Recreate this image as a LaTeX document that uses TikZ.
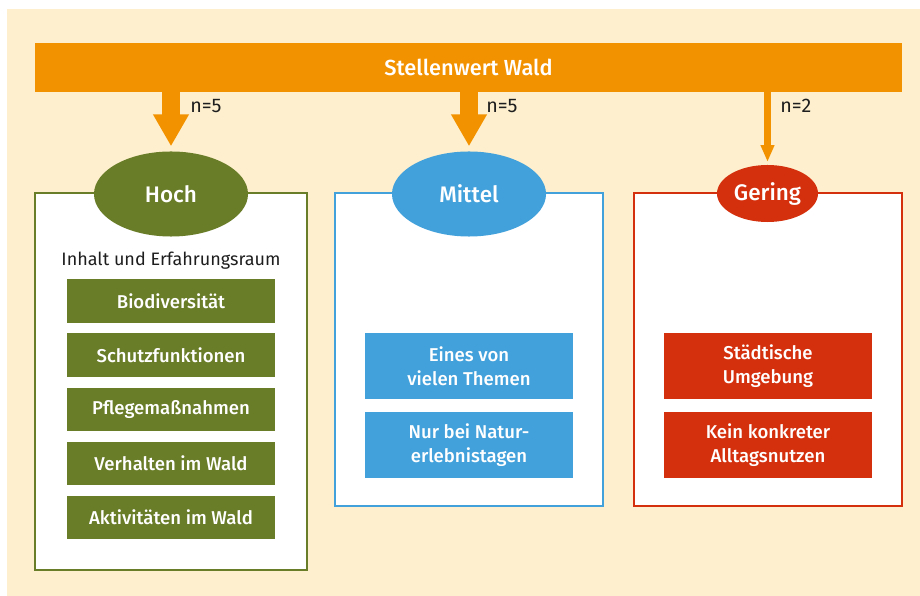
\documentclass[tikz,border=0pt]{standalone}
\usepackage{fontspec}
\setmainfont{Fira Sans}[BoldFont={Fira Sans Medium}]
\usetikzlibrary{positioning,shapes.geometric,arrows.meta}

\definecolor{waldorange}{RGB}{243,146,0}
\definecolor{waldgreen}{RGB}{105,124,39}
\definecolor{waldblue}{RGB}{66,161,219}
\definecolor{waldred}{RGB}{212,48,14}
\definecolor{waldcream}{RGB}{254,240,206}
\definecolor{textdark}{RGB}{30,30,30}

\begin{document}
\begin{tikzpicture}[x=0.025cm,y=-0.025cm,
    bar/.style={fill=waldorange, text=white, font=\bfseries\fontsize{15.5}{18}\selectfont, minimum width=21.675cm, minimum height=1.225cm, inner sep=0pt},
    rating/.style={ellipse, fill=#1, text=white, font=\bfseries\fontsize{16}{19}\selectfont, inner sep=0pt},
    frame/.style={draw=#1, line width=1.6pt, fill=white, minimum width=6.7cm, minimum height=7.825cm, inner sep=0pt},
    item/.style={fill=#1, text=white, font=\bfseries\fontsize{13.2}{17}\selectfont, align=center, minimum width=5.2cm, minimum height=1.65cm, inner sep=0pt},
    count/.style={anchor=west, text=textdark, font=\fontsize{14}{16}\selectfont, inner sep=0pt},
    bigarrow/.style={waldorange, line width=12.8pt, shorten >=3.5pt, -{Triangle[width=24pt,length=22.7pt]}},
    thinarrow/.style={waldorange, line width=4.3pt, shorten >=2pt, -{Triangle[width=9.2pt,length=12pt]}}
]
            \useasboundingbox (0,0) rectangle (920,596);
            \fill[waldcream] (7,9) rectangle (920,596);

            \node[bar] (wald) at (468.5,67.5) {Stellenwert Wald};

            \node[frame=waldgreen, minimum width=6.8cm, minimum height=9.425cm] (hochbox) at (171,381.5) {};
            \node[frame=waldblue] (mittelbox) at (469,349.5) {};
            \node[frame=waldred] (geringbox) at (768,349.5) {};

            \node[rating=waldgreen, minimum width=3.85cm, minimum height=2.125cm] (hoch) at (171,194) {Hoch};
            \node[rating=waldblue, minimum width=3.85cm, minimum height=2.125cm] (mittel) at (469,194) {Mittel};
            \node[rating=waldred, minimum width=2.525cm, minimum height=1.425cm] (gering) at (767.5,193.5) {Gering};

            \draw[bigarrow] (wald.south -| hoch.north) -- (hoch.north);
            \draw[bigarrow] (wald.south -| mittel.north) -- (mittel.north);
            \draw[thinarrow] (wald.south -| gering.north) -- (gering.north);

            \node[count] (nhoch) at (190,106) {n=5};
            \node[count] (nmittel) at (486,106) {n=5};
            \node[count] (ngering) at (780,106) {n=2};

            \node[text=textdark, font=\fontsize{12.8}{15}\selectfont] (inhalt) at (171,261) {Inhalt und Erfahrungsraum};
            \node[item=waldgreen, minimum height=1.075cm] (bio) at (171,301) {Biodiversität};
            \node[item=waldgreen, minimum height=1.075cm] (schutz) at (171,355) {Schutzfunktionen};
            \node[item=waldgreen, minimum height=1.075cm] (pflege) at (171,409.5) {Pflegemaßnahmen};
            \node[item=waldgreen, minimum height=1.075cm] (verhalten) at (171,463.5) {Verhalten im Wald};
            \node[item=waldgreen, minimum height=1.075cm] (aktiv) at (171,517.5) {Aktivitäten im Wald};

            \node[item=waldblue] (themen) at (469,366) {Eines von\\vielen Themen};
            \node[item=waldblue] (natur) at (469,445) {Nur bei Natur-\\erlebnistagen};

            \node[item=waldred] (stadt) at (768,366) {Städtische\\Umgebung};
            \node[item=waldred] (nutzen) at (768,445) {Kein konkreter\\Alltagsnutzen};
            \end{tikzpicture}
\end{document}
